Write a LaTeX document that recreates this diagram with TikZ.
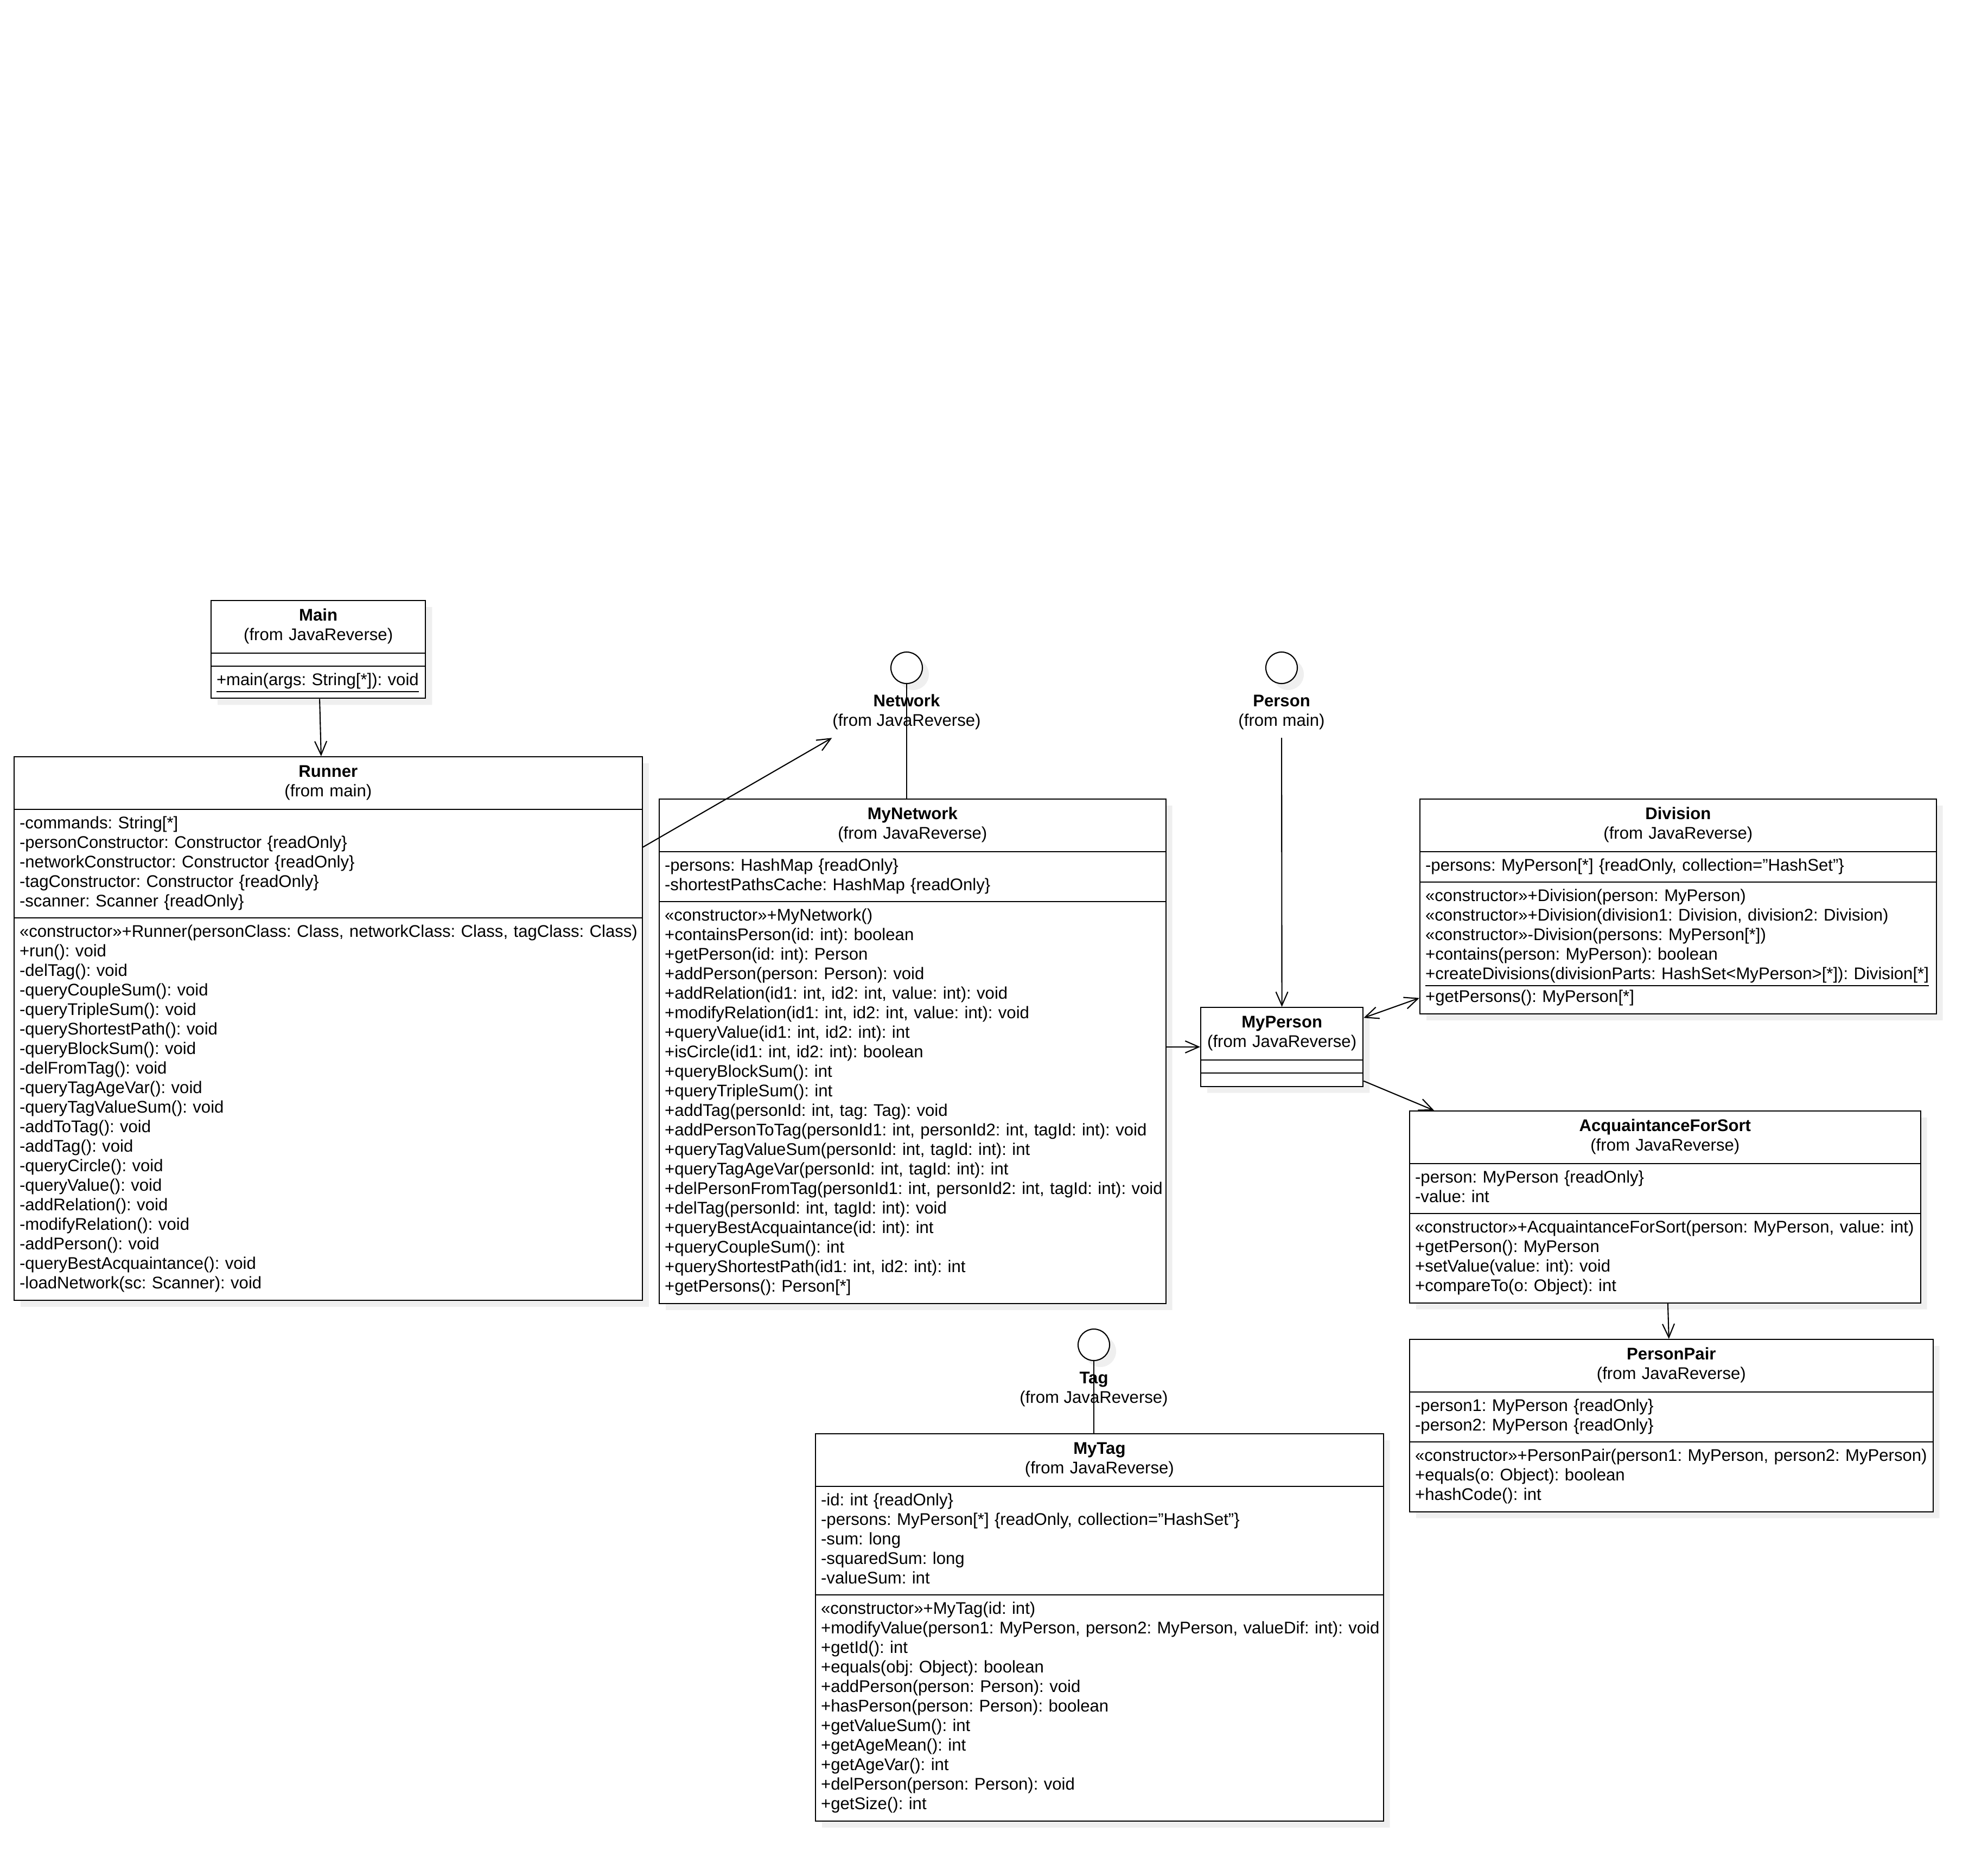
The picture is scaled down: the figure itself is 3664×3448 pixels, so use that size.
\documentclass[tikz,border=0pt]{standalone}
\usepackage{fontspec}
\setmainfont{Liberation Sans}
\usetikzlibrary{shapes.multipart, arrows.meta, shadows, positioning}
\frenchspacing

\newcommand\cname[2]{\rule{0pt}{7.74pt}\makebox[\linewidth]{\textbf{#1}}\\\makebox[\linewidth]{(#2)}\rule[-3.64pt]{0pt}{3.64pt}}
\newcommand\mem[1]{\rightskip=0pt plus 1fil minus 1cm\hyphenpenalty=10000\strut#1\strut}
\newcommand\nomem{\rule{0pt}{0.04cm}}

\begin{document}
\begin{tikzpicture}[x=0.01cm, y=-0.01cm, line width=0.6pt,
  every node/.style={font=\fontsize{8.85}{10.24}\selectfont},
  cls/.style={rectangle split, rectangle split parts=3, draw, fill=white, align=left,
    inner xsep=0.1cm, inner ysep=0.092cm, anchor=north west,
    drop shadow={shadow xshift=0.12cm, shadow yshift=-0.12cm, opacity=0.12}},
  ball/.style={circle, draw, fill=white, minimum size=0.58cm, inner sep=0pt,
    drop shadow={shadow xshift=0.12cm, shadow yshift=-0.12cm, opacity=0.12}},
  ilabel/.style={align=center, inner xsep=0pt, inner ysep=0.1cm},
  dep/.style={-{Straight Barb[length=0.25cm, width=0.22cm]}},
  dep2/.style={{Straight Barb[length=0.25cm, width=0.22cm]}-{Straight Barb[length=0.25cm, width=0.22cm]}}]

\fill[white] (0,0) rectangle (3664,3448);
\useasboundingbox (0,0) rectangle (3664,3448);

\node[cls, text width=3.75cm] (main) at (388,1106) {\cname{Main}{from JavaReverse}
  \nodepart{two}\nomem
  \nodepart{three}\mem{\underline{+main(args: String[*]): void}}};

\node[cls, text width=11.37cm] (runner) at (25,1394) {\cname{Runner}{from main}
  \nodepart{two}\mem{-commands: String[*]\\
    -personConstructor: Constructor \{readOnly\}\\
    -networkConstructor: Constructor \{readOnly\}\\
    -tagConstructor: Constructor \{readOnly\}\\
    -scanner: Scanner \{readOnly\}}
  \nodepart{three}\mem{«constructor»+Runner(personClass: Class, networkClass: Class, tagClass: Class)\\
    +run(): void\\
    -delTag(): void\\
    -queryCoupleSum(): void\\
    -queryTripleSum(): void\\
    -queryShortestPath(): void\\
    -queryBlockSum(): void\\
    -delFromTag(): void\\
    -queryTagAgeVar(): void\\
    -queryTagValueSum(): void\\
    -addToTag(): void\\
    -addTag(): void\\
    -queryCircle(): void\\
    -queryValue(): void\\
    -addRelation(): void\\
    -modifyRelation(): void\\
    -addPerson(): void\\
    -queryBestAcquaintance(): void\\
    -loadNetwork(sc: Scanner): void}};

\node[cls, text width=9.13cm] (mynetwork) at (1214,1472) {\cname{MyNetwork}{from JavaReverse}
  \nodepart{two}\mem{-persons: HashMap \{readOnly\}\\
    -shortestPathsCache: HashMap \{readOnly\}}
  \nodepart{three}\mem{«constructor»+MyNetwork()\\
    +containsPerson(id: int): boolean\\
    +getPerson(id: int): Person\\
    +addPerson(person: Person): void\\
    +addRelation(id1: int, id2: int, value: int): void\\
    +modifyRelation(id1: int, id2: int, value: int): void\\
    +queryValue(id1: int, id2: int): int\\
    +isCircle(id1: int, id2: int): boolean\\
    +queryBlockSum(): int\\
    +queryTripleSum(): int\\
    +addTag(personId: int, tag: Tag): void\\
    +addPersonToTag(personId1: int, personId2: int, tagId: int): void\\
    +queryTagValueSum(personId: int, tagId: int): int\\
    +queryTagAgeVar(personId: int, tagId: int): int\\
    +delPersonFromTag(personId1: int, personId2: int, tagId: int): void\\
    +delTag(personId: int, tagId: int): void\\
    +queryBestAcquaintance(id: int): int\\
    +queryCoupleSum(): int\\
    +queryShortestPath(id1: int, id2: int): int\\
    +getPersons(): Person[*]}};

\node[cls, text width=9.31cm] (division) at (2616,1472) {\cname{Division}{from JavaReverse}
  \nodepart{two}\mem{-persons: MyPerson[*] \{readOnly, collection="HashSet"\}}
  \nodepart{three}\mem{«constructor»+Division(person: MyPerson)\\
    «constructor»+Division(division1: Division, division2: Division)\\
    «constructor»-Division(persons: MyPerson[*])\\
    +contains(person: MyPerson): boolean\\
    \underline{+createDivisions(divisionParts: HashSet<MyPerson>[*]): Division[*]}\\
    +getPersons(): MyPerson[*]}};

\node[cls, text width=2.79cm] (myperson) at (2212,1856) {\cname{MyPerson}{from JavaReverse}
  \nodepart{two}\nomem
  \nodepart{three}\nomem};

\node[cls, text width=9.21cm] (afs) at (2597,2047) {\cname{AcquaintanceForSort}{from JavaReverse}
  \nodepart{two}\mem{-person: MyPerson \{readOnly\}\\
    -value: int}
  \nodepart{three}\mem{«constructor»+AcquaintanceForSort(person: MyPerson, value: int)\\
    +getPerson(): MyPerson\\
    +setValue(value: int): void\\
    +compareTo(o: Object): int}};

\node[cls, text width=9.44cm] (personpair) at (2597,2468) {\cname{PersonPair}{from JavaReverse}
  \nodepart{two}\mem{-person1: MyPerson \{readOnly\}\\
    -person2: MyPerson \{readOnly\}}
  \nodepart{three}\mem{«constructor»+PersonPair(person1: MyPerson, person2: MyPerson)\\
    +equals(o: Object): boolean\\
    +hashCode(): int}};

\node[cls, text width=10.26cm] (mytag) at (1502,2642) {\cname{MyTag}{from JavaReverse}
  \nodepart{two}\mem{-id: int \{readOnly\}\\
    -persons: MyPerson[*] \{readOnly, collection="HashSet"\}\\
    -sum: long\\
    -squaredSum: long\\
    -valueSum: int}
  \nodepart{three}\mem{«constructor»+MyTag(id: int)\\
    +modifyValue(person1: MyPerson, person2: MyPerson, valueDif: int): void\\
    +getId(): int\\
    +equals(obj: Object): boolean\\
    +addPerson(person: Person): void\\
    +hasPerson(person: Person): boolean\\
    +getValueSum(): int\\
    +getAgeMean(): int\\
    +getAgeVar(): int\\
    +delPerson(person: Person): void\\
    +getSize(): int}};

\node[ball] (netball) at (1671,1231) {};
\node[ilabel, below=0.05cm of netball] (netlbl) {\strut\textbf{Network}\\(from JavaReverse)\strut};
\node[ball] (persball) at (2362,1231) {};
\node[ilabel, below=0.05cm of persball] (perslbl) {\strut\textbf{Person}\\(from main)\strut};
\node[ball] (tagball) at (2016,2479) {};
\node[ilabel, below=0.05cm of tagball] (taglbl) {\strut\textbf{Tag}\\(from JavaReverse)\strut};

\draw[dep] (main) -- (runner);
\draw[dep] (runner) -- (netlbl.south west);
\draw (netball) -- (netball |- mynetwork.north);
\draw[dep] (perslbl) -- (myperson);
\draw[dep] (mynetwork.east |- myperson.west) -- (myperson.west);
\draw[dep2] (myperson) -- (division);
\draw[dep] (myperson) -- (afs);
\draw[dep] (afs) -- (personpair);
\draw (tagball) -- (tagball |- mytag.north);

\end{tikzpicture}
\end{document}
